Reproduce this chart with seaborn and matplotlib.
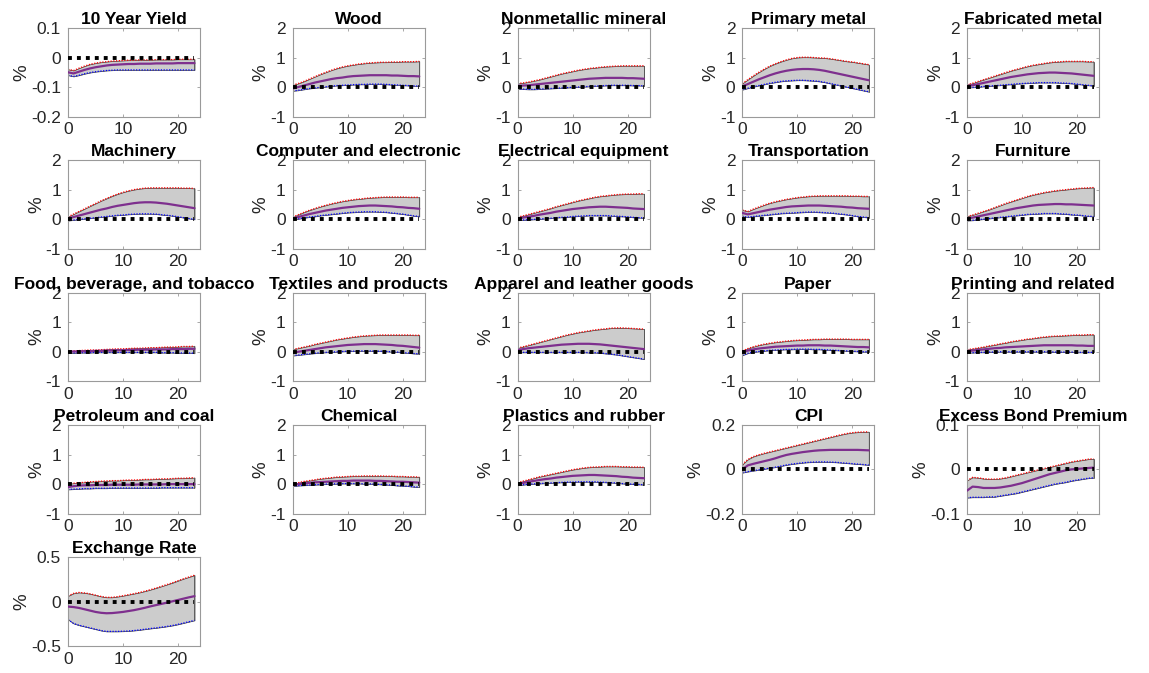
import numpy as np
import pandas as pd
import matplotlib
matplotlib.use("Agg")
import matplotlib.pyplot as plt
import seaborn as sns

# ---- impulse responses: median, lower and upper bands, months 0..23 ----
months = list(range(24))

titles = [
    "10 Year Yield", "Wood", "Nonmetallic mineral", "Primary metal", "Fabricated metal",
    "Machinery", "Computer and electronic", "Electrical equipment", "Transportation", "Furniture",
    "Food, beverage, and tobacco", "Textiles and products", "Apparel and leather goods", "Paper",
    "Printing and related", "Petroleum and coal", "Chemical", "Plastics and rubber", "CPI",
    "Excess Bond Premium", "Exchange Rate",
]

med_yield = [-0.050,-0.054,-0.048,-0.042,-0.037,-0.033,-0.030,-0.027,-0.025,-0.024,-0.023,-0.022,-0.022,-0.021,-0.021,-0.021,-0.020,-0.020,-0.020,-0.020,-0.019,-0.019,-0.019,-0.019]
hi_yield = [-0.040,-0.044,-0.036,-0.029,-0.023,-0.019,-0.016,-0.014,-0.012,-0.011,-0.010,-0.009,-0.009,-0.008,-0.008,-0.008,-0.007,-0.007,-0.007,-0.007,-0.006,-0.006,-0.006,-0.006]
lo_yield = [-0.060,-0.064,-0.060,-0.055,-0.051,-0.048,-0.046,-0.044,-0.043,-0.042,-0.042,-0.042,-0.042,-0.042,-0.042,-0.042,-0.042,-0.042,-0.042,-0.042,-0.042,-0.042,-0.042,-0.042]

med_wood = [-0.05,0.00,0.05,0.10,0.15,0.19,0.23,0.27,0.30,0.32,0.35,0.37,0.38,0.39,0.40,0.40,0.40,0.40,0.39,0.39,0.38,0.37,0.37,0.36]
hi_wood = [0.07,0.12,0.19,0.27,0.35,0.43,0.50,0.57,0.63,0.68,0.72,0.75,0.78,0.80,0.82,0.83,0.84,0.84,0.85,0.85,0.86,0.86,0.86,0.87]
lo_wood = [-0.13,-0.11,-0.08,-0.05,-0.03,-0.01,0.01,0.03,0.05,0.06,0.07,0.08,0.09,0.09,0.10,0.10,0.10,0.09,0.08,0.07,0.06,0.05,0.04,0.03]

med_nonmet = [0.04,0.05,0.06,0.08,0.10,0.12,0.14,0.16,0.18,0.20,0.22,0.24,0.26,0.28,0.29,0.30,0.31,0.31,0.31,0.31,0.30,0.30,0.29,0.28]
hi_nonmet = [0.12,0.14,0.17,0.21,0.25,0.30,0.35,0.40,0.45,0.49,0.53,0.57,0.60,0.63,0.65,0.67,0.69,0.70,0.71,0.72,0.72,0.72,0.72,0.72]
lo_nonmet = [-0.07,-0.07,-0.08,-0.08,-0.07,-0.06,-0.05,-0.04,-0.03,-0.02,-0.01,0.00,0.01,0.02,0.03,0.04,0.05,0.06,0.06,0.06,0.06,0.05,0.05,0.04]

med_primary = [0.02,0.10,0.18,0.26,0.33,0.40,0.46,0.51,0.55,0.58,0.60,0.61,0.61,0.60,0.58,0.55,0.51,0.47,0.43,0.39,0.35,0.31,0.27,0.23]
hi_primary = [0.12,0.25,0.38,0.50,0.61,0.71,0.79,0.86,0.92,0.97,1.00,1.01,1.01,1.00,0.99,0.98,0.96,0.93,0.90,0.87,0.85,0.82,0.79,0.76]
lo_primary = [-0.09,-0.04,0.01,0.05,0.09,0.13,0.16,0.19,0.21,0.22,0.23,0.23,0.22,0.21,0.19,0.16,0.12,0.08,0.04,0.00,-0.04,-0.08,-0.12,-0.16]

med_fab = [0.03,0.06,0.10,0.14,0.18,0.22,0.26,0.30,0.34,0.37,0.40,0.43,0.45,0.47,0.48,0.49,0.49,0.48,0.47,0.46,0.44,0.42,0.40,0.38]
hi_fab = [0.08,0.13,0.19,0.25,0.31,0.37,0.43,0.49,0.55,0.60,0.65,0.70,0.74,0.77,0.80,0.83,0.85,0.86,0.87,0.87,0.87,0.87,0.86,0.86]
lo_fab = [-0.02,-0.01,0.00,0.02,0.03,0.05,0.06,0.08,0.09,0.11,0.12,0.13,0.14,0.15,0.15,0.15,0.15,0.14,0.13,0.12,0.10,0.08,0.06,0.04]

med_mach = [0.03,0.08,0.13,0.18,0.23,0.28,0.33,0.37,0.42,0.46,0.49,0.52,0.55,0.57,0.58,0.58,0.57,0.55,0.53,0.50,0.47,0.44,0.41,0.38]
hi_mach = [0.09,0.18,0.27,0.36,0.45,0.54,0.63,0.71,0.79,0.86,0.92,0.97,1.01,1.04,1.06,1.07,1.07,1.07,1.07,1.07,1.07,1.06,1.06,1.05]
lo_mach = [-0.04,-0.02,0.00,0.02,0.04,0.06,0.08,0.10,0.12,0.14,0.15,0.17,0.18,0.19,0.19,0.19,0.18,0.16,0.14,0.12,0.09,0.06,0.03,0.00]

med_comp = [0.03,0.08,0.13,0.18,0.22,0.26,0.30,0.33,0.36,0.39,0.41,0.43,0.45,0.46,0.47,0.47,0.46,0.45,0.44,0.42,0.41,0.39,0.38,0.36]
hi_comp = [0.08,0.16,0.24,0.31,0.37,0.43,0.48,0.53,0.57,0.61,0.64,0.67,0.69,0.71,0.73,0.74,0.75,0.76,0.76,0.76,0.76,0.75,0.75,0.75]
lo_comp = [-0.02,0.02,0.05,0.08,0.10,0.13,0.15,0.17,0.19,0.21,0.23,0.24,0.25,0.26,0.26,0.26,0.25,0.24,0.22,0.20,0.18,0.15,0.12,0.10]

med_elec = [0.03,0.06,0.09,0.12,0.16,0.19,0.22,0.26,0.29,0.32,0.35,0.37,0.39,0.41,0.42,0.43,0.43,0.42,0.41,0.40,0.39,0.37,0.36,0.35]
hi_elec = [0.08,0.12,0.17,0.22,0.27,0.32,0.37,0.43,0.48,0.53,0.58,0.63,0.67,0.71,0.75,0.78,0.80,0.82,0.84,0.85,0.86,0.86,0.87,0.87]
lo_elec = [-0.03,-0.02,-0.01,0.00,0.01,0.03,0.04,0.06,0.07,0.08,0.10,0.11,0.12,0.13,0.13,0.13,0.13,0.12,0.11,0.10,0.09,0.07,0.06,0.05]

med_trans = [0.22,0.17,0.21,0.25,0.29,0.33,0.36,0.39,0.42,0.44,0.45,0.46,0.47,0.47,0.47,0.46,0.45,0.44,0.43,0.41,0.40,0.38,0.37,0.36]
hi_trans = [0.32,0.27,0.35,0.42,0.49,0.55,0.60,0.64,0.68,0.71,0.74,0.76,0.78,0.79,0.80,0.80,0.80,0.80,0.80,0.80,0.79,0.79,0.78,0.78]
lo_trans = [0.10,0.08,0.10,0.12,0.14,0.16,0.18,0.20,0.21,0.22,0.23,0.24,0.25,0.25,0.24,0.23,0.22,0.20,0.18,0.16,0.13,0.10,0.08,0.06]

med_furn = [0.03,0.06,0.10,0.14,0.18,0.22,0.26,0.30,0.34,0.38,0.41,0.44,0.47,0.49,0.50,0.51,0.52,0.52,0.51,0.51,0.50,0.49,0.48,0.47]
hi_furn = [0.10,0.15,0.21,0.27,0.33,0.40,0.47,0.54,0.60,0.66,0.72,0.78,0.83,0.87,0.91,0.94,0.97,0.99,1.01,1.03,1.05,1.06,1.07,1.08]
lo_furn = [-0.04,-0.03,-0.01,0.01,0.03,0.05,0.07,0.09,0.11,0.13,0.15,0.17,0.18,0.19,0.20,0.20,0.20,0.19,0.18,0.16,0.15,0.13,0.11,0.10]

med_food = [0.00,0.01,0.01,0.02,0.02,0.03,0.03,0.04,0.04,0.05,0.05,0.06,0.06,0.07,0.07,0.07,0.08,0.08,0.08,0.09,0.09,0.09,0.10,0.10]
hi_food = [0.03,0.03,0.04,0.05,0.06,0.06,0.07,0.08,0.09,0.10,0.10,0.11,0.12,0.12,0.13,0.14,0.14,0.15,0.16,0.16,0.17,0.18,0.18,0.19]
lo_food = [-0.04,-0.04,-0.03,-0.03,-0.03,-0.02,-0.02,-0.02,-0.02,-0.02,-0.02,-0.02,-0.02,-0.02,-0.02,-0.02,-0.02,-0.03,-0.03,-0.03,-0.04,-0.04,-0.04,-0.05]

med_text = [-0.03,0.00,0.03,0.06,0.09,0.12,0.15,0.17,0.19,0.21,0.23,0.24,0.25,0.26,0.26,0.26,0.25,0.24,0.23,0.21,0.20,0.18,0.16,0.14]
hi_text = [0.08,0.12,0.16,0.20,0.25,0.29,0.33,0.37,0.41,0.44,0.47,0.50,0.52,0.54,0.55,0.56,0.57,0.57,0.57,0.57,0.57,0.57,0.56,0.56]
lo_text = [-0.13,-0.11,-0.09,-0.07,-0.05,-0.03,-0.02,-0.01,0.00,0.01,0.02,0.02,0.03,0.03,0.03,0.02,0.02,0.01,0.00,-0.01,-0.03,-0.04,-0.06,-0.07]

med_app = [0.06,0.09,0.12,0.14,0.16,0.18,0.20,0.22,0.24,0.25,0.26,0.27,0.27,0.27,0.26,0.25,0.23,0.21,0.19,0.17,0.15,0.13,0.11,0.09]
hi_app = [0.13,0.17,0.22,0.27,0.32,0.37,0.42,0.47,0.52,0.57,0.61,0.65,0.68,0.71,0.74,0.76,0.78,0.80,0.81,0.81,0.80,0.79,0.78,0.77]
lo_app = [-0.02,-0.02,-0.02,-0.02,-0.02,-0.02,-0.02,-0.02,-0.02,-0.02,-0.02,-0.02,-0.02,-0.03,-0.03,-0.04,-0.06,-0.08,-0.10,-0.13,-0.16,-0.19,-0.22,-0.25]

med_paper = [-0.02,0.04,0.08,0.11,0.13,0.15,0.17,0.18,0.19,0.20,0.21,0.21,0.22,0.22,0.22,0.21,0.21,0.20,0.19,0.18,0.17,0.16,0.16,0.15]
hi_paper = [0.03,0.11,0.17,0.22,0.26,0.29,0.32,0.34,0.36,0.38,0.39,0.40,0.41,0.42,0.42,0.43,0.43,0.43,0.43,0.43,0.42,0.42,0.42,0.42]
lo_paper = [-0.12,-0.05,-0.01,0.01,0.03,0.05,0.06,0.07,0.08,0.08,0.09,0.09,0.09,0.08,0.08,0.07,0.06,0.05,0.04,0.03,0.02,0.01,0.00,0.00]

med_print = [0.02,0.04,0.06,0.08,0.10,0.12,0.13,0.15,0.16,0.17,0.18,0.19,0.20,0.21,0.22,0.22,0.22,0.22,0.22,0.22,0.21,0.21,0.20,0.20]
hi_print = [0.07,0.10,0.13,0.16,0.20,0.23,0.27,0.30,0.34,0.37,0.40,0.43,0.45,0.48,0.50,0.52,0.53,0.54,0.55,0.56,0.57,0.57,0.58,0.58]
lo_print = [-0.03,-0.03,-0.02,-0.02,-0.01,-0.01,0.00,0.00,0.00,0.00,0.00,0.00,0.00,0.00,0.00,0.00,-0.01,-0.01,-0.01,-0.01,-0.02,-0.02,-0.02,-0.02]

med_petro = [-0.10,-0.07,-0.05,-0.04,-0.04,-0.03,-0.03,-0.03,-0.02,-0.02,-0.02,-0.02,-0.02,-0.01,-0.01,-0.01,-0.01,-0.01,0.00,0.00,0.00,0.00,0.00,0.00]
hi_petro = [0.01,0.03,0.05,0.06,0.08,0.09,0.10,0.11,0.12,0.12,0.13,0.14,0.14,0.15,0.16,0.16,0.17,0.18,0.18,0.19,0.20,0.20,0.21,0.22]
lo_petro = [-0.18,-0.17,-0.16,-0.15,-0.15,-0.14,-0.14,-0.14,-0.13,-0.13,-0.13,-0.13,-0.13,-0.13,-0.13,-0.13,-0.13,-0.12,-0.12,-0.12,-0.12,-0.12,-0.12,-0.12]

med_chem = [-0.03,0.00,0.02,0.04,0.06,0.07,0.08,0.09,0.10,0.11,0.11,0.12,0.12,0.12,0.12,0.11,0.11,0.10,0.09,0.08,0.08,0.07,0.06,0.05]
hi_chem = [0.01,0.05,0.09,0.12,0.15,0.18,0.20,0.22,0.24,0.25,0.26,0.27,0.27,0.28,0.28,0.28,0.28,0.27,0.27,0.26,0.26,0.25,0.25,0.24]
lo_chem = [-0.07,-0.05,-0.04,-0.03,-0.02,-0.01,0.00,0.01,0.01,0.02,0.02,0.02,0.02,0.01,0.01,0.00,-0.01,-0.02,-0.03,-0.05,-0.06,-0.07,-0.09,-0.10]

med_plast = [0.00,0.04,0.08,0.11,0.14,0.17,0.19,0.22,0.24,0.26,0.28,0.29,0.30,0.31,0.31,0.30,0.29,0.28,0.27,0.25,0.24,0.22,0.21,0.20]
hi_plast = [0.05,0.10,0.15,0.20,0.25,0.29,0.33,0.37,0.41,0.45,0.49,0.52,0.55,0.57,0.58,0.59,0.60,0.60,0.60,0.59,0.59,0.58,0.58,0.57]
lo_plast = [-0.04,-0.02,0.00,0.01,0.02,0.03,0.04,0.05,0.06,0.07,0.07,0.08,0.08,0.08,0.08,0.07,0.06,0.05,0.04,0.02,0.01,0.00,-0.01,-0.02]

med_cpi = [0.000,0.018,0.025,0.031,0.037,0.043,0.050,0.058,0.065,0.070,0.074,0.078,0.081,0.084,0.086,0.087,0.088,0.088,0.088,0.088,0.088,0.088,0.087,0.086]
hi_cpi = [0.022,0.045,0.058,0.066,0.073,0.079,0.085,0.091,0.097,0.103,0.109,0.115,0.121,0.127,0.133,0.139,0.145,0.151,0.157,0.162,0.166,0.168,0.169,0.170]
lo_cpi = [-0.015,-0.010,-0.006,-0.002,0.002,0.006,0.010,0.015,0.020,0.024,0.027,0.030,0.032,0.033,0.034,0.034,0.033,0.032,0.030,0.028,0.026,0.024,0.022,0.020]

med_ebp = [-0.048,-0.039,-0.040,-0.042,-0.042,-0.042,-0.041,-0.039,-0.037,-0.034,-0.031,-0.027,-0.023,-0.019,-0.015,-0.011,-0.008,-0.005,-0.002,0.000,0.001,0.002,0.003,0.004]
hi_ebp = [-0.025,-0.018,-0.019,-0.021,-0.022,-0.022,-0.021,-0.019,-0.016,-0.013,-0.010,-0.007,-0.004,-0.001,0.002,0.005,0.008,0.011,0.014,0.017,0.019,0.021,0.023,0.024]
lo_ebp = [-0.064,-0.063,-0.063,-0.063,-0.062,-0.062,-0.060,-0.058,-0.056,-0.054,-0.051,-0.048,-0.045,-0.042,-0.039,-0.036,-0.033,-0.031,-0.029,-0.026,-0.024,-0.022,-0.020,-0.019]

med_fx = [-0.055,-0.060,-0.070,-0.085,-0.100,-0.115,-0.125,-0.130,-0.128,-0.122,-0.115,-0.105,-0.095,-0.082,-0.068,-0.052,-0.038,-0.024,-0.010,0.005,0.020,0.035,0.050,0.063]
hi_fx = [0.065,0.095,0.105,0.100,0.090,0.075,0.060,0.050,0.050,0.058,0.068,0.080,0.092,0.105,0.120,0.137,0.155,0.175,0.195,0.215,0.238,0.260,0.280,0.300]
lo_fx = [-0.200,-0.245,-0.265,-0.280,-0.295,-0.310,-0.325,-0.335,-0.335,-0.335,-0.333,-0.330,-0.325,-0.318,-0.310,-0.302,-0.295,-0.287,-0.278,-0.268,-0.255,-0.240,-0.225,-0.210]

medians = [med_yield, med_wood, med_nonmet, med_primary, med_fab, med_mach, med_comp, med_elec,
           med_trans, med_furn, med_food, med_text, med_app, med_paper, med_print, med_petro,
           med_chem, med_plast, med_cpi, med_ebp, med_fx]
uppers = [hi_yield, hi_wood, hi_nonmet, hi_primary, hi_fab, hi_mach, hi_comp, hi_elec,
          hi_trans, hi_furn, hi_food, hi_text, hi_app, hi_paper, hi_print, hi_petro,
          hi_chem, hi_plast, hi_cpi, hi_ebp, hi_fx]
lowers = [lo_yield, lo_wood, lo_nonmet, lo_primary, lo_fab, lo_mach, lo_comp, lo_elec,
          lo_trans, lo_furn, lo_food, lo_text, lo_app, lo_paper, lo_print, lo_petro,
          lo_chem, lo_plast, lo_cpi, lo_ebp, lo_fx]

# y-axis ticks per panel
ticks_yield = [-0.2, -0.1, 0, 0.1]
ticks_sector = [-1, 0, 1, 2]
ticks_cpi = [-0.2, 0, 0.2]
ticks_ebp = [-0.1, 0, 0.1]
ticks_fx = [-0.5, 0, 0.5]
yticks = [ticks_yield] + [ticks_sector] * 17 + [ticks_cpi, ticks_ebp, ticks_fx]
xticks = [0, 10, 20]

# ---- style ----
sns.set_theme(style="white")
plt.rcParams["font.family"] = ["Liberation Sans", "DejaVu Sans"]
plt.rcParams["axes.unicode_minus"] = False

PURPLE = "#7E2F8E"
SPINE = "#9a9a9a"
TEXT = "#262626"

fig, axes = plt.subplots(5, 5, figsize=(11.49, 6.73), dpi=100)
fig.subplots_adjust(left=0.0592, right=0.9565, top=0.9584, bottom=0.0401,
                    wspace=0.703, hspace=0.495)

for i, ax in enumerate(axes.flat):
    if i >= len(titles):
        ax.set_visible(False)
        continue
    df = pd.DataFrame({"month": months, "med": medians[i],
                       "lo": lowers[i], "hi": uppers[i]})
    ax.fill_between(df["month"], df["lo"], df["hi"], facecolor="#cccccc",
                    edgecolor="#333333", linewidth=0.5, zorder=1)
    ax.plot([df["month"].iloc[-1]] * 2, [df["lo"].iloc[-1], df["hi"].iloc[-1]],
            color="#555555", linewidth=0.6, zorder=1.5)
    sns.lineplot(data=df, x="month", y="hi", ax=ax, color="red",
                 linestyle=(0, (1, 1.2)), linewidth=0.9, zorder=2)
    sns.lineplot(data=df, x="month", y="lo", ax=ax, color="blue",
                 linestyle=(0, (1, 1.2)), linewidth=0.9, zorder=2)
    sns.lineplot(data=df, x="month", y="med", ax=ax, color=PURPLE,
                 linewidth=1.6, zorder=3)
    # zero reference line
    ax.plot(df["month"], np.zeros(len(df)), color="black",
            linestyle=(0, (1, 1.3)), linewidth=2.8, zorder=4)

    yt = yticks[i]
    ax.set_xlim(0, 24)
    ax.set_ylim(yt[0], yt[-1])
    ax.set_xticks(xticks)
    ax.set_xticklabels([str(t) for t in xticks])
    ax.set_yticks(yt)
    ax.set_yticklabels([f"{t:g}" for t in yt])
    ax.tick_params(axis="both", direction="in", length=2.5, width=0.6,
                   color=SPINE, labelsize=12.5, labelcolor=TEXT,
                   top=True, right=True, bottom=True, left=True)
    ax.tick_params(axis="y", pad=5)
    ax.tick_params(axis="x", pad=4)
    for sp in ax.spines.values():
        sp.set_color(SPINE)
        sp.set_linewidth(0.8)
    ax.set_xlabel("")
    ax.set_ylabel("%", fontsize=13.5, color=TEXT, labelpad=0.5)
    ax.set_title(titles[i], fontsize=12.5, fontweight="bold", color="black", pad=3)

fig.savefig("out.png", dpi=100, facecolor="white")
